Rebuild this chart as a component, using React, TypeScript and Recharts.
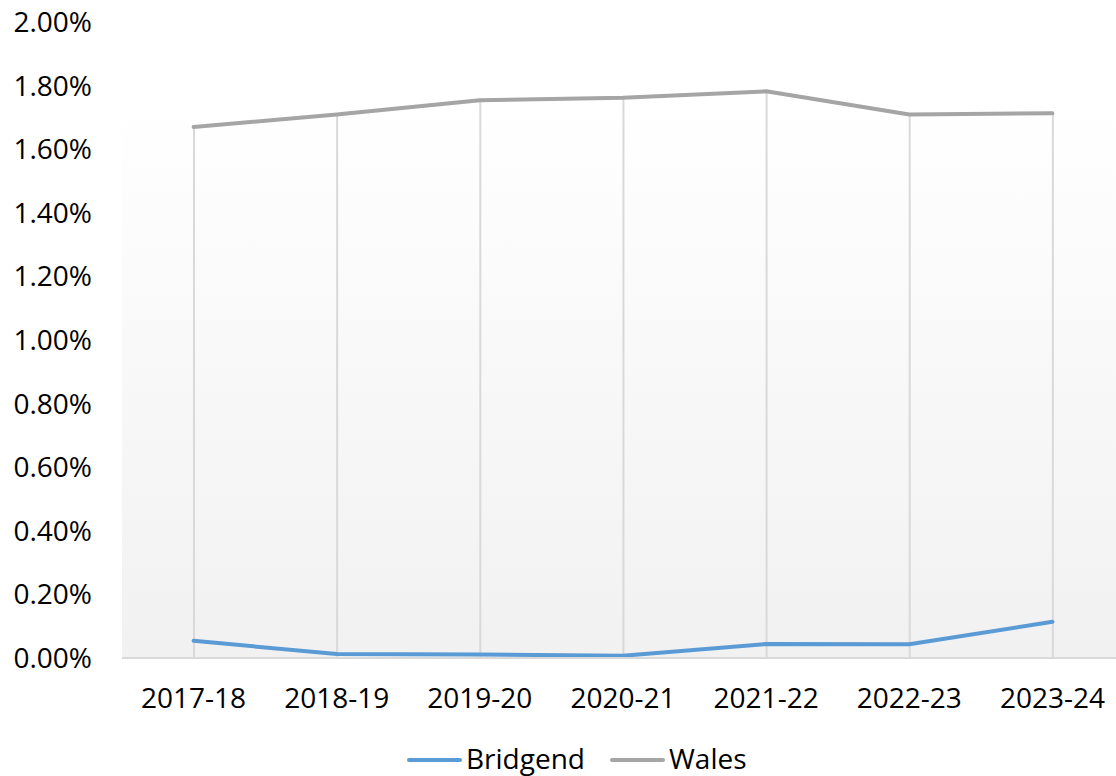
// ─── Bridgend vs Wales percentage line chart ──────────────────────────
import { ComposedChart, Line, Bar, XAxis, YAxis, ReferenceArea } from 'recharts';

const categories = ['2017-18', '2018-19', '2019-20', '2020-21', '2021-22', '2022-23', '2023-24'];
const bridgend = [0.00054, 0.000125, 0.00011, 0.00007, 0.00044, 0.00043, 0.00114];
const wales = [0.0167, 0.01709, 0.01754, 0.01762, 0.01782, 0.01709, 0.01713];
const yTicks = [0, 0.002, 0.004, 0.006, 0.008, 0.01, 0.012, 0.014, 0.016, 0.018, 0.02];

const chartData = categories.map((category, i) => ({
  category,
  bridgend: bridgend[i],
  wales: wales[i],
}));

const FONT = '"Open Sans", "Liberation Sans", sans-serif';
const BLUE = '#5b9bd5';
const GREY = '#a5a5a5';

const legendItems = [
  { name: 'Bridgend', color: BLUE },
  { name: 'Wales', color: GREY },
];

// legend drawn outside the chart so it doesn't shrink the plot area
function CustomLegend() {
  return (
    <svg width={360} height={34} style={{ position: 'absolute', left: 407, top: 739, overflow: 'visible' }}>
      {legendItems.map((item, i) => {
        const x = i === 0 ? 0 : 203;
        return (
          <g key={item.name}>
            <line x1={x + 2} y1={21} x2={x + 53} y2={21} stroke={item.color} strokeWidth={4} strokeLinecap="round" />
            <text x={x + 59} y={30} fontSize={28} fontFamily={FONT} fill="#000">
              {item.name}
            </text>
          </g>
        );
      })}
    </svg>
  );
}

export default function App() {
  return (
    <div style={{ position: 'absolute', left: 0, top: 0, width: 1116, height: 776, overflow: 'hidden', background: '#fff', fontFamily: FONT }}>
      <ComposedChart
        width={1124}
        height={776}
        data={chartData}
        margin={{ top: 22, right: 0, left: 0, bottom: 88 }}
      >
        <defs>
          <linearGradient id="plotBg" x1="0" y1="0" x2="0" y2="1">
            <stop offset="0%" stopColor="#ffffff" />
            <stop offset="100%" stopColor="#f1f1f1" />
          </linearGradient>
        </defs>
        <ReferenceArea y1={0} y2={0.0174} fill="url(#plotBg)" fillOpacity={1} stroke="none" />
        <XAxis
          dataKey="category"
          height={30}
          interval={0}
          tickLine={false}
          tickSize={0}
          tickMargin={30}
          axisLine={{ stroke: '#d9d9d9', strokeWidth: 2 }}
          tick={{ fontSize: 28, fill: '#000', fontFamily: FONT }}
        />
        <YAxis
          width={122}
          domain={[0, 0.02]}
          ticks={yTicks}
          interval={0}
          axisLine={false}
          tickLine={false}
          tickSize={0}
          tickMargin={30}
          tickFormatter={(v: number) => (v * 100).toFixed(2) + '%'}
          tick={{ fontSize: 28, fill: '#000', fontFamily: FONT }}
        />
        {/* drop lines from the highest series down to the axis */}
        <Bar dataKey="wales" barSize={2} fill="#d9d9d9" legendType="none" isAnimationActive={false} />
        <Line
          type="linear"
          dataKey="bridgend"
          name="Bridgend"
          stroke={BLUE}
          strokeWidth={4}
          strokeLinecap="round"
          strokeLinejoin="round"
          dot={false}
          activeDot={false}
          isAnimationActive={false}
        />
        <Line
          type="linear"
          dataKey="wales"
          name="Wales"
          stroke={GREY}
          strokeWidth={4}
          strokeLinecap="round"
          strokeLinejoin="round"
          dot={false}
          activeDot={false}
          isAnimationActive={false}
        />
      </ComposedChart>
      <CustomLegend />
    </div>
  );
}
